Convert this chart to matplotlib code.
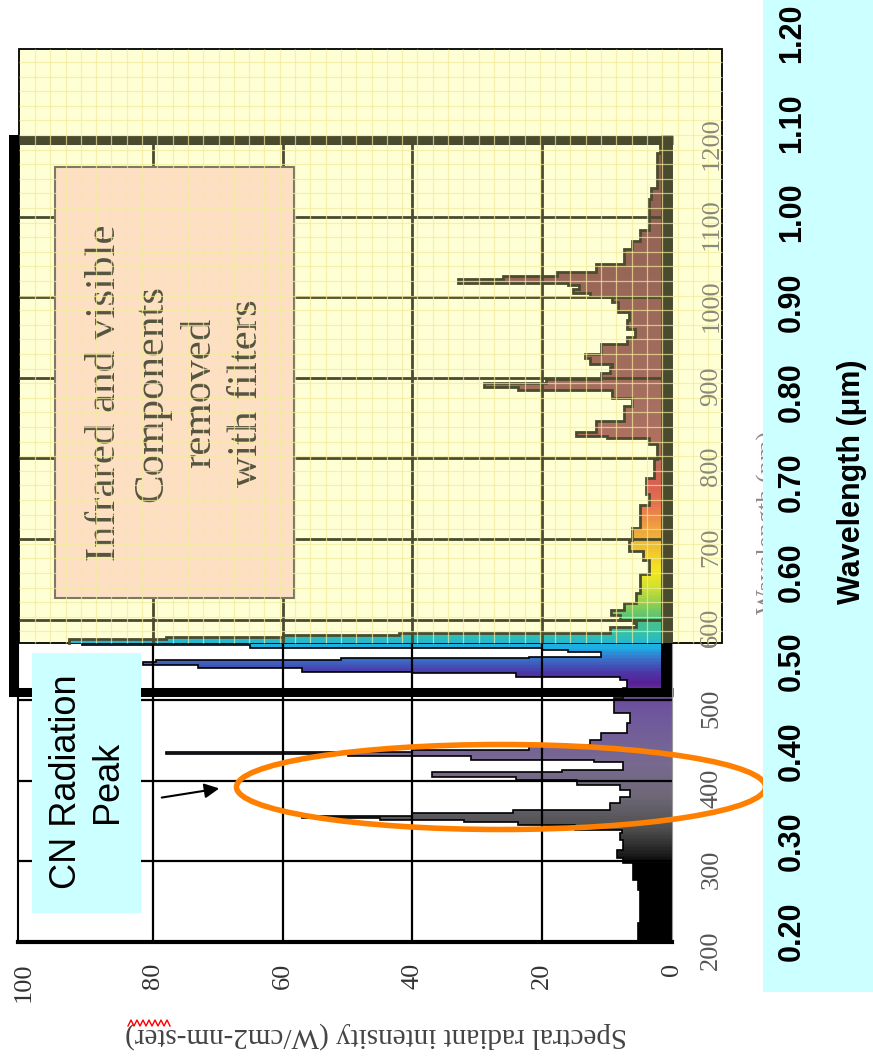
import numpy as np
import matplotlib.pyplot as plt
import matplotlib.transforms as mtransforms
from matplotlib.colors import LinearSegmentedColormap
from matplotlib.patches import Polygon, Rectangle, Ellipse

# lower chart spectrum, 200-571 nm (white area)
lower_nm = [200, 224, 265, 277, 298, 304, 314, 327, 335, 339,
            345, 349, 351, 354, 356, 360, 364, 372, 380, 389,
            395, 401, 405, 410, 411, 413, 417, 423, 426, 431,
            433, 436, 438, 444, 451, 459, 472, 484, 497, 503,
            515, 525, 529, 534, 535, 540, 544, 547, 550, 552,
            554, 559, 560, 562, 565, 568, 571]
lower_I = [5.2, 4.9, 5.2, 6, 7.5, 8.5, 7.5, 8, 7.7, 15,
           23.7, 32, 45, 57, 40, 24.5, 9.5, 8, 6.5, 8,
           14.6, 24, 37, 37, 17, 7.5, 7.5, 12, 31, 50,
           78, 40, 22, 12.6, 11, 7, 6.5, 9, 9, 7.5,
           6.9, 8, 24, 40, 57, 73, 81.6, 79.5, 51, 22,
           11, 11, 16, 20, 65, 91, 91]

# pasted-in chart spectrum, 571-1200 nm (yellow area)
upper_nm = [571, 573, 576, 578, 581, 583, 587, 591, 596, 600,
            606, 612, 621, 633, 657, 674, 685, 699, 714, 742,
            756, 776, 799, 818, 825, 828, 833, 846, 865, 875,
            885, 889, 894, 898, 906, 913, 917, 925, 930, 942,
            951, 961, 972, 982, 994, 1000, 1005, 1010, 1015, 1018,
            1023, 1026, 1031, 1041, 1060, 1070, 1083, 1122, 1135, 1179,
            1200]
upper_I = [93, 93, 78, 60, 42, 9.5, 9.5, 5.5, 6, 8,
           9.4, 7.4, 5.5, 4.9, 3.6, 4.5, 6.6, 6.2, 4.9, 3.6,
           4, 2.8, 2.3, 3.6, 10, 14.8, 11.7, 7.4, 6.2, 9.2,
           23.7, 29, 19.4, 10.9, 9.6, 9.2, 12.6, 13.4, 11, 7,
           5.7, 7, 6.6, 8.3, 9.2, 12.6, 15.2, 14.3, 16, 33,
           26, 17.7, 11.7, 7.4, 6.2, 4.9, 3.6, 3.2, 2.3, 1.8,
           1.8]

I_ticks = [100, 80, 60, 40, 20, 0]
grid_I = [80, 60, 40, 20]
lower_wl_ticks = [200, 300, 400, 500, 600]
upper_wl_ticks = [600, 700, 800, 900, 1000, 1100, 1200]
um_ticks = [0.2, 0.3, 0.4, 0.5, 0.6, 0.7, 0.8, 0.9, 1.0, 1.1, 1.2]
um_labels = ['0.20', '0.30', '0.40', '0.50', '0.60', '0.70', '0.80', '0.90', '1.00', '1.10', '1.20']

# colour of the fill along the wavelength axis
wl_stops = [200, 295, 305, 340, 380, 420, 480, 505, 520, 535, 550, 565, 580,
            600, 620, 640, 660, 690, 715, 745, 770, 800, 850, 1200]
wl_colors = ['#000000', '#000000', '#1a1a1a', '#505050', '#6e6878', '#786a90',
             '#70589e', '#6a4a9c', '#5a1e96', '#4a3aa8', '#3a70c8', '#1cb0e8',
             '#30c0b0', '#50c080', '#90d050', '#d0e030', '#f4e820', '#f0c030',
             '#f0a040', '#e87050', '#d86050', '#b87060', '#a87060', '#8a5e50']
spec_cmap = LinearSegmentedColormap.from_list(
    'spec', [((w - 200) / 1000, c) for w, c in zip(wl_stops, wl_colors)])

olive = '#4a4a2e'

fig = plt.figure(figsize=(8.73, 10.63), dpi=100)
W, H = 873, 1063
ax = fig.add_axes([18 / W, (H - 942) / H, 654 / W, 806 / H])
# pixel coordinates of the picture (y downwards)
px = mtransforms.Affine2D().scale(1 / W, -1 / H).translate(0, 1) + fig.transFigure


def step_outline(nm, I):
    ys = np.repeat(nm, 2)[1:]
    xs = np.repeat(I, 2)[:-1]
    return xs, ys


def spectrum(nm, I, z, edge, lw):
    xs, ys = step_outline(nm, I)
    verts = [(0, nm[0])] + list(zip(xs, ys)) + [(0, nm[-1])]
    poly = Polygon(verts, closed=True, facecolor='none', edgecolor='none', zorder=z)
    ax.add_patch(poly)
    grad = np.linspace(200, 1200, 1000).reshape(-1, 1)
    im = ax.imshow(grad, cmap=spec_cmap, vmin=200, vmax=1200, origin='lower',
                   extent=(0, 101, 200, 1200), aspect='auto', zorder=z,
                   interpolation='bilinear')
    im.set_clip_path(poly)
    ax.plot(xs, ys, color=edge, lw=lw, zorder=z + 0.15, solid_joinstyle='miter')


# ---- lower (white) chart
spectrum(lower_nm, lower_I, 1.0, 'black', 1.2)
ax.vlines(grid_I, 200, 571, color='black', lw=1.6, zorder=1.1)
ax.hlines([300, 400, 500], 0, 100.8, color='black', lw=1.6, zorder=1.1)

# thick black frame of the filtered region
ax.plot([101.4, 101.4], [504, 1201], color='black', lw=7.2, solid_capstyle='butt', clip_on=False, zorder=2)
ax.plot([102.2, -0.15], [510, 510], color='black', lw=6.5, solid_capstyle='butt', clip_on=False, zorder=2)
ax.plot([0.77, 0.77], [504, 571], color='black', lw=8.6, solid_capstyle='butt', clip_on=False, zorder=2)

# ---- pasted yellow chart
ax.add_patch(Rectangle((19, 49), 703, 594, transform=px, facecolor='#ffffd6',
                       edgecolor='black', lw=1.3, clip_on=False, zorder=3))
spectrum(upper_nm, upper_I, 3.1, olive, 2.0)
ax.vlines(grid_I, 571, 1195, color=olive, lw=2, zorder=3.2)
ax.hlines([600, 700, 800, 900, 1000, 1100], 0, 100.6, color=olive, lw=2, zorder=3.2)
ax.add_patch(Rectangle((55, 167), 239, 431, transform=px, facecolor='#fde0c4',
                       edgecolor='#7a7a60', lw=1.5, clip_on=False, zorder=3.3))
ax.text(176, 393, 'Infrared and visible\nComponents\nremoved\nwith filters', transform=px,
        rotation=90, ha='center', va='center', multialignment='center', linespacing=1.3,
        fontsize=31, family='Liberation Serif', color='#55553f', zorder=3.4)
ax.plot([100.6, -0.2], [1195, 1195], color=olive, lw=6.5, solid_capstyle='butt', clip_on=False, zorder=3.5)
ax.plot([0.77, 0.77], [571, 1201], color=olive, lw=8.6, solid_capstyle='butt', clip_on=False, zorder=3.5)
# screen-like fine grid of the pasted picture
ax.vlines(np.arange(35, 722, 15.3), 49, 643, transform=px, color='#f2eb9a', lw=0.9,
          alpha=0.7, clip_on=False, zorder=3.6)
ax.hlines(np.arange(62, 643, 14.6), 19, 722, transform=px, color='#f2eb9a', lw=0.9,
          alpha=0.7, clip_on=False, zorder=3.6)

# wavelength tick labels (nm)
lab_tr = mtransforms.offset_copy(ax.get_yaxis_transform(), fig=fig, x=0, y=-8, units='dots')
for w in lower_wl_ticks:
    ax.text(1.06, w, str(w), transform=lab_tr, rotation=90, ha='center', va='center',
            fontsize=19, family='Liberation Serif', color='#555555', clip_on=False, zorder=2.9)
for w in upper_wl_ticks:
    ax.text(1.06, w, str(w), transform=lab_tr, rotation=90, ha='center', va='center',
            fontsize=19, family='Liberation Serif', color='#8a8a78', clip_on=False, zorder=3.7)
ax.text(768, 522, 'Wavelength (nm)', transform=px, rotation=90, ha='center', va='center',
        fontsize=19, family='Liberation Serif', color='#8a8a8a', clip_on=False, zorder=3.7)

# axes styling
ax.set_xlim(100.8, 0)
ax.set_ylim(200, 1200)
ax.set_xticks(I_ticks, labels=[str(v) for v in I_ticks], rotation=90, fontsize=19,
              family='Liberation Serif', color='#333333')
ax.tick_params(axis='x', length=0, pad=15)
ax.set_yticks([])
ax.spines['top'].set_visible(False)
ax.spines['left'].set_linewidth(1.5)
ax.spines['bottom'].set_linewidth(3)
ax.spines['right'].set_color('#999999')
ax.spines['right'].set_linewidth(0.8)
ax.text(376, 1035, 'Spectral radiant intensity (W/cm2-nm-ster)', transform=px, rotation=180,
        ha='center', va='center', fontsize=21, family='Liberation Serif', color='#444444',
        clip_on=False)
zx = np.arange(128, 171, 3)
zy = np.where(np.arange(len(zx)) % 2, 1020, 1026)
ax.plot(zx, zy, transform=px, color='red', lw=1, clip_on=False, zorder=5)

# ---- annotations
ax.add_patch(Rectangle((32, 653), 109, 260, transform=px, facecolor='#ccffff',
                       edgecolor='none', clip_on=False, zorder=6))
ax.text(87, 782, 'CN Radiation\nPeak', transform=px, rotation=90, ha='center', va='center',
        multialignment='center', linespacing=1.2, fontsize=26, family='Liberation Sans',
        color='black', zorder=6.5)
ax.add_patch(Ellipse((501, 787), 529, 85, transform=px, facecolor='none',
                     edgecolor='#ff8000', lw=4, clip_on=False, zorder=7))
ax.annotate('', xy=(222, 788), xytext=(159, 798), xycoords=px, textcoords=px,
            arrowprops=dict(arrowstyle='-|>', color='black', lw=1.5, mutation_scale=22),
            zorder=7)

# ---- micrometre scale on the right
ax2 = fig.add_axes([763 / W, (H - 992) / H, 110 / W, 992 / H])
ax2.set_facecolor('#ccffff')
for s in ax2.spines.values():
    s.set_visible(False)
ax2.set_xticks([])
ax2.set_yticks([])
ax2.set_ylim(0.132, 1.2367)
for u, lab in zip(um_ticks, um_labels):
    ax2.text(0.264, u, lab, transform=ax2.get_yaxis_transform(), rotation=90,
             ha='center', va='center', fontsize=22, fontweight='bold', family='Liberation Sans')
ax2.text(0.81, 0.514, 'Wavelength (\u03bcm)', transform=ax2.transAxes, rotation=90,
         ha='center', va='center', fontsize=22, fontweight='bold', family='Liberation Sans')

fig.savefig('out.png', dpi=100)
